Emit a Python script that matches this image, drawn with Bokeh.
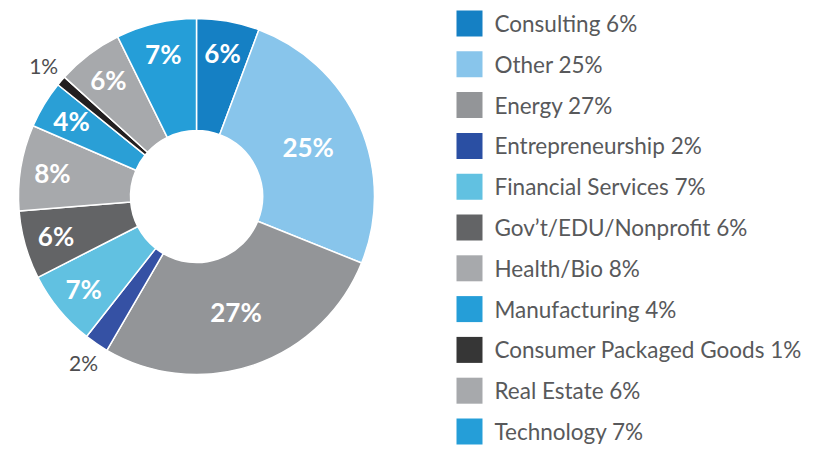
import math
from bokeh.plotting import figure
from bokeh.models import ColumnDataSource
from bokeh.core.properties import value
from bokeh.embed import file_html
from bokeh.resources import INLINE

categories = ["Consulting", "Other", "Energy", "Entrepreneurship", "Financial Services",
              "Gov\u2019t/EDU/Nonprofit", "Health/Bio", "Manufacturing",
              "Consumer Packaged Goods", "Real Estate", "Technology"]
shares = [5.7, 25.4, 27.3, 2.2, 6.9, 6.2, 7.8, 4.3, 0.9, 6.0, 7.3]
pct_labels = ["6%", "25%", "27%", "2%", "7%", "6%", "8%", "4%", "1%", "6%", "7%"]
colors = ["#1580c4", "#88c5eb", "#939598", "#3551a4", "#61c1e1", "#636466",
          "#a7a9ac", "#2a9fd6", "#231f20", "#a7a9ac", "#259ed8"]
legend_colors = ["#1580c4", "#88c5eb", "#939598", "#2a4fa3", "#61c1e1", "#636466",
                 "#a7a9ac", "#259ed8", "#363636", "#a7a9ac", "#259ed8"]

W, H = 804, 446
p = figure(width=W, height=H, x_range=(0, W), y_range=(0, H),
           output_backend="svg", toolbar_location=None, min_border=0)
p.axis.visible = False
p.grid.visible = False
p.outline_line_color = None
p.background_fill_color = "white"

cx, cy = 196, H - 196
r_out, r_in = 178, 66

total = sum(shares)
starts, ends, mids = [], [], []
cum = 0.0
for s in shares:
    a0 = cum / total
    cum += s
    a1 = cum / total
    starts.append(math.pi / 2 - 2 * math.pi * a0)
    ends.append(math.pi / 2 - 2 * math.pi * a1)
    mids.append((a0 + a1) / 2)

src = ColumnDataSource(dict(start=starts, end=ends, color=colors))
p.annular_wedge(x=cx, y=cy, inner_radius=r_in, outer_radius=r_out,
                start_angle="start", end_angle="end", direction="clock",
                fill_color="color", line_color="white", line_width=1.5, source=src)

in_x, in_y, in_t = [], [], []
out_x, out_y, out_t = [], [], []
for s, m, t in zip(shares, mids, pct_labels):
    ang = 2 * math.pi * m
    if s < 2.5:
        r = 201
        out_x.append(cx + r * math.sin(ang))
        out_y.append(cy + r * math.cos(ang))
        out_t.append(t)
    else:
        r = 122 if s > 15 else 146
        in_x.append(cx + r * math.sin(ang))
        in_y.append(cy + r * math.cos(ang))
        in_t.append(t)

p.text(x=in_x, y=in_y, text=in_t, text_color="white", text_font=value("Lato"),
       text_font_style="bold", text_font_size="26px", text_align="center",
       text_baseline="middle")
p.text(x=out_x, y=out_y, text=out_t, text_color="#4d4d4f", text_font=value("Lato"),
       text_font_size="21px", text_align="center", text_baseline="middle")

# legend
row_y = [H - (23.0 + 40.8 * i) for i in range(len(categories))]
p.rect(x=[469] * len(categories), y=row_y, width=26, height=26,
       fill_color=legend_colors, line_color=None)
p.text(x=[494] * len(categories), y=row_y,
       text=[f"{c} {t}" for c, t in zip(categories, pct_labels)],
       text_color="#58595b", text_font=value("Lato"), text_font_size="22.5px",
       text_align="left", text_baseline="middle")

open("out.html", "w").write(file_html(p, INLINE))
